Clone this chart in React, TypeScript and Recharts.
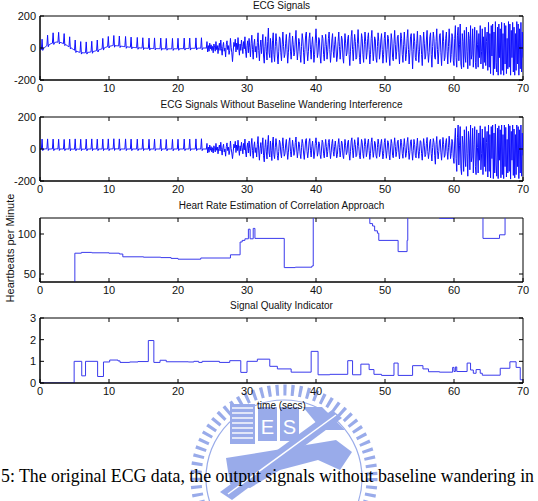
import React from 'react'
import { LineChart, Line, XAxis, YAxis, ReferenceArea, ReferenceLine } from 'recharts'

// ECG samples every 0.1 s from 0 to 70 s
const T_STEP = 0.1

const ecgRaw = [
  -15, -12, -10, 55, -15, -4, 0, 4, 8, 12,
  15, 80, 8, 20, 22, 25, 27, 29, 30, 95,
  22, 33, 35, 36, 37, 37, 36, 98, 26, 35,
  34, 33, 31, 29, 27, 90, 15, 22, 19, 16,
  13, 10, 7, 70, -5, 1, -2, -5, -8, -11,
  -14, 50, -28, -19, -21, -23, -25, -26, -27, 40,
  -38, -29, -30, -30, -30, -30, -29, 38, -38, -28,
  -27, -27, -26, -25, -24, 42, -33, -22, -21, -20,
  -19, -17, -16, 50, -25, -13, -11, -9, -8, -6,
  -5, 60, -13, 0, 2, 4, 6, 7, 9, 72,
  0, 11, 12, 13, 14, 15, 15, 78, 5, 15,
  15, 14, 14, 13, 13, 75, 3, 12, 11, 10,
  10, 9, 9, 8, 72, -2, 7, 7, 6, 6,
  5, 5, 68, -5, 4, 4, 3, 3, 3, 2,
  2, 66, -8, 2, 1, 1, 0, 0, 0, 64,
  -10, 0, -1, -1, -1, -2, -2, -2, 62, -12,
  -2, -3, -3, -3, -3, -3, 63, -12, -3, -4,
  -4, -4, -4, -4, -4, 62, -14, -4, -5, -5,
  -5, -5, -5, 60, -14, -5, -5, -5, -5, -5,
  -5, -5, 60, -15, -5, -5, -5, -5, -5, -5,
  61, -14, -5, -5, -4, -4, -4, -4, -4, 62,
  -13, -4, -3, -3, -3, -3, -3, 62, -13, -3,
  -2, -2, -2, -2, -2, -2, 63, -12, -2, -1,
  -1, -1, -1, -1, 64, -11, -1, 0, 0, 0,
  0, -2, 40, -25, 15, -20, 30, -5, 20, -15,
  10, -30, 25, 5, -20, 40, -10, 15, -35, 5,
  30, -15, 50, -5, -45, 10, 35, -20, 0, -55,
  20, 45, -10, 15, -40, -15, 60, 5, -30, -85,
  -20, 35, 10, 55, -25, 30, -10, 65, 0, -45,
  25, -15, 50, 10, -35, 40, -5, 70, -20, -60,
  15, 45, -30, 60, 5, -55, 30, 80, -10, -70,
  20, 55, -25, 10, -60, 35, 95, -15, -80, 5,
  50, -35, 25, 85, -50, -95, 10, 70, -20, -75,
  40, 125, -30, -60, 60, -10, -90, 45, 95, -40,
  -85, 10, 90, 40, -50, -100, -20, 70, 60, -30,
  -80, 20, 100, 10, -60, -40, 30, 85, -10, -95,
  -30, 60, 95, -20, -70, 0, 75, 20, -50, -30,
  50, 110, 0, -75, -20, 60, 40, -40, -90, 10,
  90, 50, -30, -100, -10, 80, 100, -20, -80, -20,
  60, 95, -10, -70, 20, 70, 0, -90, -40, 50,
  120, 30, -60, -30, 65, 50, -50, -95, 0, 80,
  60, -40, -80, 10, 85, 20, -70, -20, 60, 100,
  -10, -90, -30, 50, 90, -20, -60, 20, 70, 0,
  -85, -50, 40, 100, 10, -70, -10, 75, 50, -60,
  -95, 0, 90, 30, -50, -30, 60, 80, -40, -110,
  -20, 70, 110, -10, -80, 10, 85, 40, -70, -60,
  30, 115, 20, -60, -100, 0, 90, 60, -40, -90,
  20, 100, 40, -70, -30, 60, 95, -10, -100, -40,
  60, 110, 0, -80, -20, 70, 50, -60, -90, 10,
  95, 40, -70, -30, 50, 90, -10, -95, -40, 60,
  100, 0, -90, -10, 80, 60, -50, -110, 0, 90,
  50, -60, -80, 30, 110, 20, -70, -20, 70, 80,
  -30, -100, 0, 95, 60, -40, -90, 20, 100, 10,
  -80, -40, 60, 115, -10, -100, -30, 70, 90, -20,
  -130, -10, 90, 40, -60, -80, 30, 105, -10, -90,
  -20, 80, 70, -40, -110, 0, 100, 30, -70, -50,
  50, 110, -20, -90, -30, 70, 95, -40, -120, 10,
  100, 60, -60, -70, 40, 120, -10, -100, -20, 80,
  90, -30, -110, 0, 110, 40, -80, -60, 60, 100,
  -20, -100, 10, 120, 30, -90, -40, 90, 70, -80,
  -110, 60, 140, -60, -120, 80, 130, -80, 20, 150,
  -100, -130, 90, 40, -120, 110, -50, -90, 130, -20,
  -130, 100, 60, -110, 140, -70, -40, 120, -120, 30,
  130, -90, -130, 110, 20, -120, 90, -60, 140, -100,
  -20, 120, -130, 70, -90, 130, -110, 40, 100, -140,
  160, -120, 90, -160, 140, -50, 150, -170, 100, -130,
  165, -90, -150, 130, -170, 150, -60, 120, -165, 160,
  -140, 90, -170, 155, -100, 140, -160, 60, -130, 165,
  -120, 150, -170, 110, -60, 160, -150, 130, -170, 90,
  -140, 165, -100, 150, -170, 120, -130, 160, -150, 100,
  -60,
]

const ecgFiltered = [
  -3, -2, -1, 62, -10, 0, 0, 0, 1, 1,
  1, 63, -9, 0, 0, 0, 0, 1, 1, 62,
  -10, 0, 0, 0, 1, 1, 0, 61, -9, 0,
  0, 0, 0, 0, 0, 60, -10, 0, 0, 0,
  0, 0, -1, 62, -11, 0, 0, -1, -1, -1,
  -1, 63, -11, 0, 0, -1, -1, -1, -1, 61,
  -10, 0, -1, -1, -1, -1, 0, 62, -11, 0,
  0, 0, 0, 0, 0, 63, -10, 0, 0, 0,
  0, 0, 0, 62, -10, 0, 0, 0, 0, 0,
  0, 62, -10, 0, 0, 0, 0, 0, 0, 63,
  -10, 0, 0, 0, 1, 1, 1, 64, -9, 1,
  1, 1, 1, 0, 0, 63, -10, 0, 0, 0,
  0, 0, 0, 0, 63, -10, 0, 0, 0, 0,
  0, 0, 62, -10, 0, 0, 0, 0, 0, 0,
  0, 62, -10, 0, 0, 0, 0, 0, 0, 62,
  -10, 0, 0, 0, 0, 0, 0, 0, 61, -10,
  0, 0, 0, 0, 0, 0, 62, -10, 0, 0,
  0, 0, 0, 0, 0, 61, -11, 0, 0, 0,
  0, 0, 0, 60, -11, 0, 0, 0, 0, 0,
  0, 0, 60, -11, 0, 0, 0, 0, 0, 0,
  61, -10, 0, 0, 0, 0, 0, 0, 0, 62,
  -10, 0, 0, 0, 0, 0, 0, 62, -10, 0,
  0, 0, 0, 0, 0, 0, 63, -10, 0, 0,
  0, 0, 0, 0, 64, -10, 0, 0, 0, 0,
  0, -2, 35, -25, 12, -20, 25, -8, 15, -18,
  8, -25, 20, 2, -18, 35, -8, 12, -30, 3,
  25, -12, 42, -5, -38, 8, 30, -18, 0, -45,
  15, 38, -10, 12, -35, -12, 50, 4, -25, -60,
  -18, 30, 8, 48, -22, 25, -10, 55, 0, -40,
  20, -12, 42, 8, -30, 35, -5, 62, -18, -50,
  12, 38, -25, 50, 4, -45, 25, 66, -10, -58,
  15, 45, -22, 8, -50, 30, 78, -12, -70, 4,
  40, -30, 20, 70, -42, -80, 8, 58, -18, -62,
  30, 85, -25, -50, 50, -10, -72, 38, 75, -35,
  -60, 10, 65, 25, -40, -70, -15, 55, 40, -25,
  -55, 15, 70, 5, -45, -30, 25, 60, -10, -65,
  -20, 45, 70, -15, -50, 0, 55, 15, -40, -20,
  40, 75, 0, -55, -15, 45, 30, -30, -60, 8,
  60, 35, -25, -65, -8, 55, 65, -15, -55, -12,
  45, 65, -8, -50, 15, 50, 0, -60, -25, 35,
  70, 20, -45, -20, 45, 35, -35, -60, 0, 55,
  40, -30, -55, 8, 60, 15, -50, -15, 40, 60,
  -8, -60, -20, 35, 60, -15, -45, 15, 50, 0,
  -55, -35, 28, 65, 8, -50, -8, 50, 35, -40,
  -60, 0, 60, 20, -35, -20, 42, 55, -30, -70,
  -15, 50, 70, -8, -55, 8, 58, 28, -48, -40,
  20, 72, 15, -42, -62, 0, 60, 40, -28, -58,
  15, 65, 28, -48, -20, 40, 62, -8, -65, -28,
  40, 70, 0, -52, -15, 48, 35, -40, -58, 8,
  62, 28, -48, -20, 35, 60, -8, -62, -28, 40,
  65, 0, -58, -8, 52, 40, -35, -68, 0, 60,
  35, -40, -55, 20, 70, 15, -48, -15, 45, 55,
  -20, -62, 0, 62, 40, -28, -58, 15, 65, 8,
  -52, -28, 40, 72, -8, -65, -20, 48, 58, -15,
  -70, -8, 60, 28, -40, -55, 20, 68, -8, -58,
  -15, 52, 48, -28, -70, 0, 65, 20, -48, -35,
  35, 72, -15, -60, -20, 45, 62, -28, -75, 8,
  65, 40, -40, -95, 28, 78, -8, -62, -15, 52,
  60, -20, -70, 0, 72, 28, -52, -40, 40, 65,
  -15, -65, 8, 80, 20, -60, -28, 60, 45, -55,
  -90, 50, 130, -60, -140, 70, 150, -100, 20, 140,
  -120, -160, 80, 30, -140, 120, -50, -110, 140, -30,
  -170, 110, 50, -130, 150, -80, -50, 130, -150, 30,
  140, -110, -160, 120, 10, -150, 100, -70, 145, -130,
  -30, 125, -160, 70, -110, 140, -140, 40, 110, -175,
  150, -140, 90, -180, 140, -60, 150, -185, 100, -150,
  155, -100, -170, 130, -185, 145, -70, 120, -180, 150,
  -160, 90, -185, 150, -110, 135, -175, 60, -150, 155,
  -140, 145, -188, 110, -70, 150, -165, 125, -180, 90,
  -160, 150, -110, 140, -185, 120, -150, 150, -170, 100,
  -40,
]

// heart rate: value holds from each time until the next one
const hrTimes = [0, 5.05, 6.0, 7.5, 10.0, 11.5, 12.0, 15.0, 17.5, 19.0, 20.0, 23.3, 27.6, 29.0, 29.3, 29.7, 30.2, 30.45, 30.9, 31.15, 35.4, 37.0, 39.4, 39.6, 47.8, 48.2, 48.5, 48.9, 49.1, 51.9, 53.2, 53.3, 57.9, 60.0, 64.2, 66.6, 67.4, 70]
const hrBpm = [0, 76, 77, 76.5, 76, 75, 71.5, 71, 70.5, 69.5, 68.5, 70, 74, 90, 92, 94, 106, 94, 107, 94.5, 58, 58.5, 60, 150, 113, 110, 104, 101, 92, 78, 92, 150, 119.5, 150, 94.5, 99, 150, 150]

const sqiTimes = [0, 4.95, 6.05, 6.6, 8.35, 9.2, 10.1, 11.3, 11.6, 13.0, 14.2, 15.7, 16.5, 17.4, 18.3, 21.5, 22.3, 23.0, 23.5, 26.0, 27.5, 29.1, 30.0, 31.5, 33.3, 34.4, 36.4, 39.3, 40.3, 42.0, 44.6, 45.3, 46.5, 47.7, 48.4, 49.5, 51.3, 51.9, 54.0, 55.5, 56.3, 57.9, 59.8, 60.0, 60.2, 60.4, 61.9, 62.4, 62.8, 63.2, 63.8, 64.1, 66.7, 68.1, 69.0, 69.6, 70]
const sqiValues = [0, 1.0, 0.33, 1.0, 0.3, 0.97, 1.06, 1.02, 0.95, 0.97, 0.99, 1.96, 0.95, 1.05, 0.98, 0.97, 1.0, 0.95, 1.0, 0.95, 1.03, 0.49, 1.0, 1.1, 0.77, 0.65, 0.5, 1.46, 0.38, 0.4, 1.03, 0.38, 0.87, 0.62, 0.4, 0.35, 0.92, 0.35, 0.8, 0.65, 0.52, 0.5, 0.72, 0.53, 0.74, 0.53, 0.92, 0.6, 0.45, 0.62, 0.45, 0.36, 0.68, 0.98, 0.72, 0.15, 0.15]

const timeTicks = [0, 10, 20, 30, 40, 50, 60, 70]
const ecgTicks = [-200, 0, 200]
const hrTicks = [50, 100]
const sqiTicks = [0, 1, 2, 3]

const sampled = (vals: number[]) => vals.map((v, i) => ({ t: Math.round(i * T_STEP * 10) / 10, v }))
const paired = (ts: number[], vs: number[]) => ts.map((t, i) => ({ t, v: vs[i] }))

const SANS = '"Liberation Sans", Arial, Helvetica, sans-serif'
const BLUE = '#1010ff'
const SOFT_BLUE = '#3a3aec'
const tickFont = { fontSize: 11, fill: '#111', fontFamily: SANS }

const M_TOP = 16
const M_RIGHT = 15
const X_AXIS_H = 20
const Y_AXIS_W = 40
const TICK_LEN = 4

function Panel(props: {
  top: number
  height: number
  title: string
  titleTop?: number
  data: { t: number; v: number }[]
  domain: [number, number]
  ticks: number[]
  step?: boolean
}) {
  const { top, height, title, titleTop = -2, data, domain, ticks, step } = props
  const [y0, y1] = domain
  // inward tick length on the top and right edges, in data units
  const plotH = height - M_TOP - X_AXIS_H
  const plotW = 538 - Y_AXIS_W - M_RIGHT
  const dy = ((y1 - y0) * TICK_LEN) / plotH
  const dx = (70 * TICK_LEN) / plotW
  return (
    <div style={{ position: 'absolute', left: 0, top, width: 538, height }}>
      <LineChart width={538} height={height} data={data} margin={{ top: M_TOP, right: M_RIGHT, bottom: 0, left: 0 }}>
        <XAxis dataKey="t" type="number" domain={[0, 70]} ticks={timeTicks} interval={0}
          height={X_AXIS_H} tickSize={-TICK_LEN} tickMargin={8} tick={tickFont} stroke="#000" allowDataOverflow />
        <YAxis type="number" domain={domain} ticks={ticks} interval={0} width={Y_AXIS_W}
          tickSize={-TICK_LEN} tickMargin={8} tick={tickFont} stroke="#000" allowDataOverflow />
        <Line dataKey="v" type={step ? 'stepAfter' : 'linear'} stroke={step ? SOFT_BLUE : BLUE}
          strokeWidth={1} dot={false} isAnimationActive={false} />
        <ReferenceArea x1={0} x2={70} y1={y0} y2={y1} fill="none" stroke="#000" strokeWidth={1} ifOverflow="visible" />
        {timeTicks.slice(1, -1).map((t) => (
          <ReferenceLine key={'tx' + t} segment={[{ x: t, y: y1 }, { x: t, y: y1 - dy }]} stroke="#000" ifOverflow="visible" />
        ))}
        {ticks.map((v) => (
          <ReferenceLine key={'ty' + v} segment={[{ x: 70, y: v }, { x: 70 - dx, y: v }]} stroke="#000" ifOverflow="visible" />
        ))}
      </LineChart>
      <div
        style={{
          position: 'absolute', left: 40, width: 483, top: titleTop, textAlign: 'center',
          fontSize: 10, lineHeight: '12px', color: '#111', whiteSpace: 'nowrap',
        }}
      >
        {title}
      </div>
    </div>
  )
}

function Watermark() {
  const c = '#8fa3e8'
  return (
    <svg width={538} height={501} style={{ position: 'absolute', left: 0, top: 0 }}>
      <g opacity={0.9}>
        <circle cx={284} cy={478} r={88} fill="none" stroke={c} strokeWidth={11} strokeDasharray="3.2 4.6" />
        <circle cx={284} cy={478} r={78} fill="none" stroke={c} strokeWidth={1.2} />
        <rect x={230} y={404} width={25} height={40} fill={c} />
        {[0, 1, 2, 3, 4, 5, 6].map((i) => (
          <line key={i} x1={232} x2={253} y1={408 + i * 5} y2={408 + i * 5} stroke="#fff" strokeWidth={1.4} />
        ))}
        <rect x={258} y={407} width={19} height={34} fill={c} />
        <rect x={280} y={407} width={19} height={34} fill={c} />
        <text x={267.5} y={434} textAnchor="middle" fontSize={20} fontFamily={SANS} fill="#fff">E</text>
        <text x={289.5} y={434} textAnchor="middle" fontSize={20} fontFamily={SANS} fill="#fff">S</text>
        <polygon points="303,407 322,407 345,430 322,430" fill={c} />
        <polygon points="226,458 300,446 336,440 352,452 340,470 318,460 280,470 250,488 230,484" fill={c} />
        <polygon points="220,492 232,500 342,418 332,410" fill={c} />
        <line x1={228} y1={494} x2={336} y2={415} stroke="#fff" strokeWidth={1.5} />
      </g>
    </svg>
  )
}

export default function App() {
  const rawData = sampled(ecgRaw)
  const filtData = sampled(ecgFiltered)
  const hrData = paired(hrTimes, hrBpm)
  const sqiData = paired(sqiTimes, sqiValues)

  return (
    <div style={{ position: 'absolute', left: 0, top: 0, width: 538, height: 501, overflow: 'hidden', background: '#fff', fontFamily: SANS }}>
      <Watermark />
      <Panel top={0} height={100} title="ECG Signals" titleTop={0} data={rawData} domain={[-200, 200]} ticks={ecgTicks} />
      <Panel top={101} height={100} title="ECG Signals Without Baseline Wandering Interference" data={filtData} domain={[-200, 200]} ticks={ecgTicks} />
      <Panel top={202} height={100} title="Heart Rate Estimation of Correlation Approach" data={hrData} domain={[40, 120]} ticks={hrTicks} step />
      <Panel top={302} height={101} title="Signal Quality Indicator" data={sqiData} domain={[0, 3]} ticks={sqiTicks} step />
      <div style={{ position: 'absolute', left: 10, top: 248, transform: 'translate(-50%, -50%) rotate(-90deg)', fontSize: 11, whiteSpace: 'nowrap', color: '#111' }}>
        Heartbeats per Minute
      </div>
      <div style={{ position: 'absolute', left: 40, width: 483, top: 400, textAlign: 'center', fontSize: 10, lineHeight: '12px', color: '#111' }}>
        time (secs)
      </div>
      <svg width={538} height={30} style={{ position: 'absolute', left: 0, top: 462 }}>
        <text x={1} y={20} fontFamily='"Liberation Serif", "Times New Roman", serif' fontSize={17.8} fill="#000">
          5: The original ECG data, the output signals without baseline wandering in
        </text>
      </svg>
    </div>
  )
}
